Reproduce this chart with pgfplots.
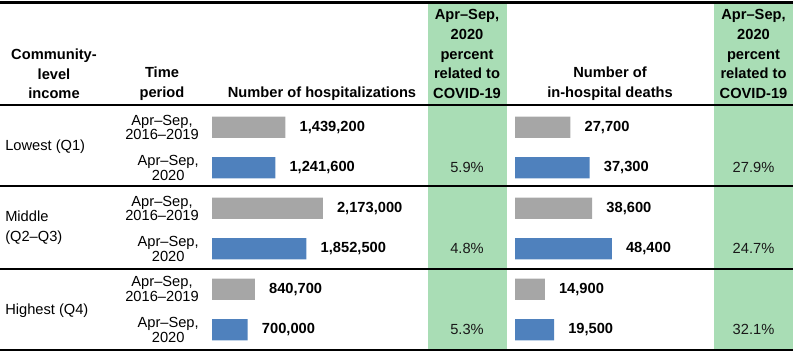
\documentclass[border=0pt]{standalone}
\usepackage{pgfplots}
\pgfplotsset{compat=1.18}
\usepackage{fontspec}
\setmainfont{Liberation Sans}
\definecolor{grn}{RGB}{169,221,181}
\definecolor{barg}{RGB}{166,166,166}
\definecolor{barb}{RGB}{79,129,189}
\begin{document}
\fontsize{11pt}{13pt}\selectfont
\begin{tikzpicture}[x=0.75pt,y=-0.75pt]
\path[use as bounding box] (0,0) rectangle (798,356);
% green columns
\fill[grn] (428,4) rectangle (507,350);
\fill[grn] (714,4) rectangle (793,350);
% rules
\draw[line width=2.25pt] (0,3) -- (793,3);
\draw[line width=1.9pt] (0,105) -- (793,105);
\draw[line width=1.9pt] (0,186) -- (793,186);
\draw[line width=1.9pt] (0,269) -- (793,269);
\draw[line width=1.9pt] (0,350) -- (793,350);
% headers
\tikzset{hdr/.style={font=\fontsize{11pt}{14.8pt}\selectfont\bfseries,align=center,inner sep=0pt}}
\node[hdr] at (54,74) {Community-\\level\\income};
\node[hdr] at (162,84) {Time\\period};
\node[hdr] at (322,94) {Number of hospitalizations};
\node[hdr] at (467,54) {Apr--Sep,\\2020\\percent\\related to\\COVID-19};
\node[hdr] at (610,84) {Number of\\in-hospital deaths};
\node[hdr] at (753.5,54) {Apr--Sep,\\2020\\percent\\related to\\COVID-19};
% group labels
\tikzset{grp/.style={font=\fontsize{11pt}{15pt}\selectfont,align=left,anchor=west,inner sep=0pt}}
\node[grp] at (5,147) {Lowest (Q1)};
\node[grp] at (5,228) {Middle\\(Q2--Q3)};
\node[grp] at (5,311) {Highest (Q4)};
% time labels
\tikzset{tim/.style={font=\fontsize{11pt}{10.8pt}\selectfont,align=center,anchor=east,inner sep=0pt}}
\node[tim] at (199,127.5) {Apr--Sep,\\2016--2019};
\node[tim] at (199,168) {Apr--Sep,\\2020};
\node[tim] at (199,208.5) {Apr--Sep,\\2016--2019};
\node[tim] at (199,249) {Apr--Sep,\\2020};
\node[tim] at (199,289) {Apr--Sep,\\2016--2019};
\node[tim] at (199,330) {Apr--Sep,\\2020};
% percent labels
\tikzset{pct/.style={font=\fontsize{11pt}{13pt}\selectfont,inner sep=0pt,text=black!90}}
\node[pct] at (467,167) {5.9\%};
\node[pct] at (467,248.5) {4.8\%};
\node[pct] at (467,329.5) {5.3\%};
\node[pct] at (753.5,167) {27.9\%};
\node[pct] at (753.5,248.5) {24.7\%};
\node[pct] at (753.5,329.5) {32.1\%};
\pgfplotsset{barax/.style={
  scale only axis, hide axis, clip=false,
  anchor=north west,
  height=182.25pt,
  ymin=-0.5, ymax=5.5, y dir=reverse, xmin=0,
  xbar, bar width=16.1pt, bar shift=0pt,
  point meta=explicit symbolic,
  nodes near coords,
  nodes near coords style={font=\fontsize{11pt}{13pt}\selectfont\bfseries,anchor=west,inner sep=0pt,xshift=10.5pt,text=black},
}}
\begin{axis}[barax, at={(159pt,-80.25pt)}, width=153pt, xmax=4000000]
\addplot[draw=none, fill=barg] coordinates {(1439200,0) [1,439,200] (2173000,2) [2,173,000] (840700,4) [840,700]};
\addplot[draw=none, fill=barb] coordinates {(1241600,1) [1,241,600] (1852500,3) [1,852,500] (700000,5) [700,000]};
\end{axis}
\begin{axis}[barax, at={(386.25pt,-80.25pt)}, width=150pt, xmax=100000]
\addplot[draw=none, fill=barg] coordinates {(27700,0) [27,700] (38600,2) [38,600] (14900,4) [14,900]};
\addplot[draw=none, fill=barb] coordinates {(37300,1) [37,300] (48400,3) [48,400] (19500,5) [19,500]};
\end{axis}
\end{tikzpicture}
\end{document}
